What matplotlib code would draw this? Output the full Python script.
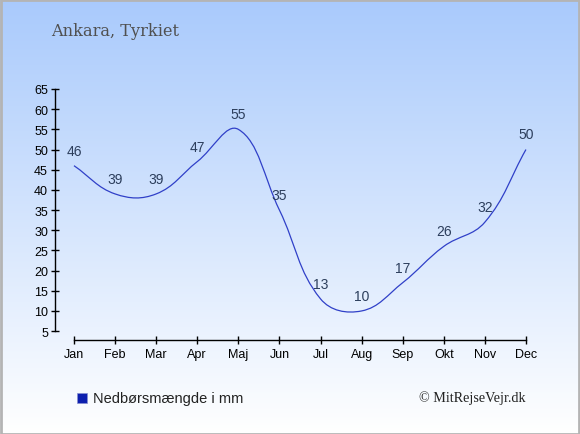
import numpy as np
import matplotlib
matplotlib.use("Agg")
import matplotlib.pyplot as plt
from matplotlib.path import Path
from matplotlib.patches import PathPatch, Rectangle

months = ["Jan", "Feb", "Mar", "Apr", "Maj", "Jun", "Jul", "Aug", "Sep", "Okt", "Nov", "Dec"]
rain = [46, 39, 39, 47, 55, 35, 13, 10, 17, 26, 32, 50]
yticks = list(range(5, 70, 5))

title = "Ankara, Tyrkiet"
legend_label = "Nedbørsmængde i mm"
credit = "\u00a9 MitRejseVejr.dk"

line_color = "#3040c8"
label_color = "#2c3e5c"


def smooth_path(ax, xs, ys, tension=0.4):
    # spline with distance-weighted bezier controls, worked out in screen space
    pts = ax.transData.transform(np.column_stack([xs, ys]))
    n = len(pts)
    prev_c = [None] * n
    next_c = [None] * n
    for i in range(n):
        p0 = pts[max(i - 1, 0)]
        p1 = pts[i]
        p2 = pts[min(i + 1, n - 1)]
        d01 = np.hypot(*(p1 - p0))
        d12 = np.hypot(*(p2 - p1))
        tot = d01 + d12
        s01 = d01 / tot if tot else 0
        s12 = d12 / tot if tot else 0
        prev_c[i] = p1 - tension * s01 * (p2 - p0)
        next_c[i] = p1 + tension * s12 * (p2 - p0)
    verts = [pts[0]]
    codes = [Path.MOVETO]
    for i in range(n - 1):
        verts += [next_c[i], prev_c[i + 1], pts[i + 1]]
        codes += [Path.CURVE4] * 3
    verts = ax.transData.inverted().transform(np.array(verts))
    return Path(verts, codes)


fig = plt.figure(figsize=(5.8, 4.35), dpi=100)

# background gradient
bg = fig.add_axes([0, 0, 1, 1])
grad = np.linspace(0, 1, 256).reshape(-1, 1)
cmap = matplotlib.colors.LinearSegmentedColormap.from_list("bg", ["#a9cafc", "#ffffff"])
bg.imshow(grad, aspect="auto", cmap=cmap, extent=[0, 1, 0, 1], origin="upper")
bg.set_xlim(0, 1)
bg.set_ylim(0, 1)
bg.axis("off")
bg.add_patch(Rectangle((0.001, 0.001), 0.997, 0.997, fill=False, ec="#b4b4b4", lw=2,
                       transform=bg.transAxes))

ax = fig.add_axes([55 / 580, 1 - 341 / 435, 473 / 580, 251 / 435])
ax.patch.set_alpha(0)
ax.set_xlim(-0.462, 11.05)
ax.set_ylim(2.8, 65)

x = np.arange(len(months))
ax.add_patch(PathPatch(smooth_path(ax, x, rain), fill=False, ec=line_color, lw=0.9))

for xi, v in zip(x, rain):
    ax.text(xi, v + 2.0, str(v), ha="center", va="bottom", fontsize=10,
            color=label_color, family="Liberation Sans")

ax.spines["top"].set_visible(False)
ax.spines["right"].set_visible(False)
ax.spines["left"].set_bounds(5, 65)
ax.spines["bottom"].set_bounds(0, 11)
ax.spines["left"].set_linewidth(1)
ax.spines["bottom"].set_linewidth(1)

ax.set_xticks(x)
ax.set_xticklabels(months, family="Liberation Sans", fontsize=9)
ax.set_yticks(yticks)
ax.set_yticklabels([str(v) for v in yticks], family="Liberation Sans", fontsize=9)
ax.tick_params(axis="x", direction="inout", length=6, width=1, pad=3)
ax.tick_params(axis="y", direction="inout", length=6, width=1, pad=2)

fig.text(51 / 580, 1 - 32 / 435, title, fontsize=11.6, color="#505050",
         family="DejaVu Serif", va="center", ha="left")

bg.add_patch(Rectangle((77 / 580, 1 - 404 / 435), 10 / 580, 10 / 435,
                       fc="#0d1fae", ec="#8890d0", lw=0.5))
fig.text(93 / 580, 1 - 399 / 435, legend_label, fontsize=10.5, color="#222222",
         family="Liberation Sans", va="center", ha="left")
fig.text(526 / 580, 1 - 398 / 435, credit, fontsize=10.2, color="#222222",
         family="Liberation Serif", va="center", ha="right")

fig.savefig("out.png", dpi=100)
